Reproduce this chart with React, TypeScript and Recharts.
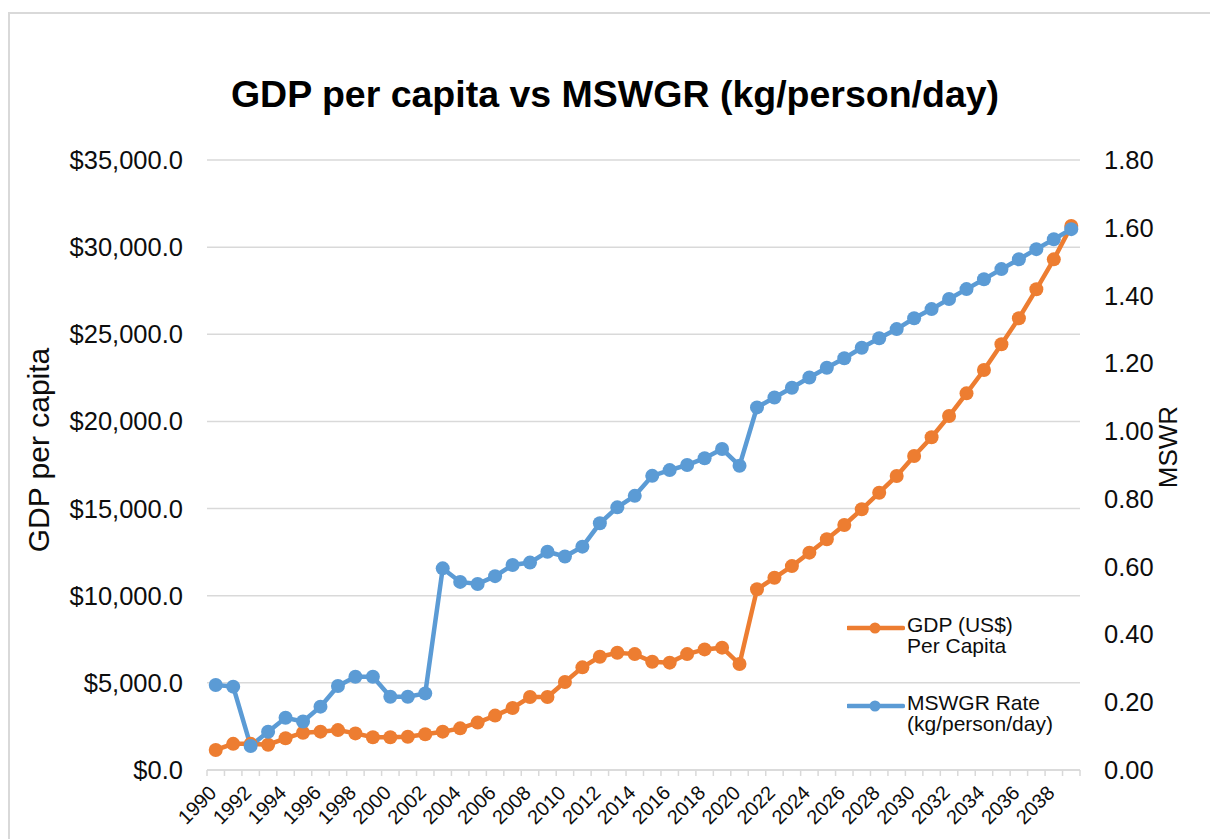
import React from 'react'
import { LineChart, Line, XAxis, YAxis, CartesianGrid, Legend } from 'recharts'

const YEARS = [
  '1990', '1991', '1992', '1993', '1994', '1995', '1996', '1997', '1998', '1999',
  '2000', '2001', '2002', '2003', '2004', '2005', '2006', '2007', '2008', '2009',
  '2010', '2011', '2012', '2013', '2014', '2015', '2016', '2017', '2018', '2019',
  '2020', '2021', '2022', '2023', '2024', '2025', '2026', '2027', '2028', '2029',
  '2030', '2031', '2032', '2033', '2034', '2035', '2036', '2037', '2038', '2039',
]

// GDP (US$) per capita
const GDP = [
  1150, 1500, 1500, 1450, 1820, 2140, 2200, 2290, 2100, 1880,
  1880, 1910, 2050, 2200, 2390, 2720, 3120, 3560, 4190, 4190,
  5050, 5890, 6500, 6730, 6650, 6210, 6160, 6650, 6920, 7020,
  6080, 10370, 11030, 11700, 12470, 13240, 14060, 14960, 15910, 16870,
  18020, 19090, 20310, 21610, 22950, 24430, 25920, 27580, 29300, 31220,
]

// MSWGR rate, kg/person/day
const MSW = [
  0.251, 0.246, 0.071, 0.113, 0.154, 0.143, 0.187, 0.248, 0.275, 0.275,
  0.216, 0.216, 0.226, 0.595, 0.555, 0.549, 0.572, 0.605, 0.612, 0.644,
  0.63, 0.659, 0.728, 0.775, 0.809, 0.868, 0.885, 0.9, 0.92, 0.947,
  0.898, 1.07, 1.099, 1.128, 1.158, 1.187, 1.215, 1.246, 1.274, 1.301,
  1.333, 1.36, 1.39, 1.419, 1.448, 1.478, 1.507, 1.537, 1.566, 1.596,
]

const LEFT_TICKS = [0, 5000, 10000, 15000, 20000, 25000, 30000, 35000]
const RIGHT_TICKS = [0, 0.2, 0.4, 0.6, 0.8, 1.0, 1.2, 1.4, 1.6, 1.8]

const ORANGE = '#ED7D31'
const BLUE = '#5B9BD5'
const GRID = '#d9d9d9'
const INK = '#0d0d0d'
const FONT = '"Liberation Sans", Arial, sans-serif'

const W = 1210
const H = 839
const LEFT_W = 207
const RIGHT_W = 130
const PLOT_W = W - LEFT_W - RIGHT_W
const STEP = PLOT_W / YEARS.length

const data = YEARS.map((year, i) => ({ year, gdp: GDP[i], msw: MSW[i] }))

function YearTick(props: any) {
  const { x, y, payload } = props
  const i = YEARS.indexOf(String(payload.value))
  const half = STEP / 2
  const tx = x + 2
  const ty = y + 24
  return (
    <g>
      <line x1={x - half} x2={x - half} y1={y} y2={y + 6} stroke={GRID} strokeWidth={1.5} />
      {i === YEARS.length - 1 && (
        <line x1={x + half} x2={x + half} y1={y} y2={y + 6} stroke={GRID} strokeWidth={1.5} />
      )}
      {i % 2 === 0 && (
        <text
          x={tx}
          y={ty}
          textAnchor="end"
          fontSize={20}
          fontFamily={FONT}
          fill={INK}
          transform={`rotate(-45 ${tx} ${ty})`}
        >
          {payload.value}
        </text>
      )}
    </g>
  )
}

function LegendBox() {
  const items = [
    { color: ORANGE, lines: ['GDP (US$)', 'Per Capita'], top: 0 },
    { color: BLUE, lines: ['MSWGR Rate', '(kg/person/day)'], top: 78 },
  ]
  return (
    <div style={{ position: 'relative', width: 230, height: 130, fontFamily: FONT }}>
      {items.map((it) => (
        <div key={it.lines[0]} style={{ position: 'absolute', left: 0, top: it.top }}>
          <svg width={58} height={14} style={{ position: 'absolute', left: 0, top: 3 }}>
            <line x1={1} x2={56} y1={7} y2={7} stroke={it.color} strokeWidth={4.5} strokeLinecap="round" />
            <circle cx={28} cy={7} r={5.5} fill={it.color} />
          </svg>
          <div style={{ position: 'absolute', left: 60, top: -4, fontSize: 21, lineHeight: '21px', color: INK, whiteSpace: 'nowrap' }}>
            {it.lines[0]}
            <br />
            {it.lines[1]}
          </div>
        </div>
      ))}
    </div>
  )
}

export default function App() {
  return (
    <div style={{ position: 'fixed', left: 0, top: 0, width: W, height: H, background: '#fff', overflow: 'hidden' }}>
      <div
        style={{
          position: 'absolute',
          left: 8,
          top: 12,
          width: W + 20,
          height: H + 20,
          borderLeft: `2px solid ${GRID}`,
          borderTop: `2px solid ${GRID}`,
        }}
      />
      <div
        style={{
          position: 'absolute',
          left: 0,
          top: 73,
          width: 1230,
          textAlign: 'center',
          fontFamily: FONT,
          fontWeight: 'bold',
          fontSize: 37.5,
          lineHeight: '42px',
          color: '#000',
        }}
      >
        GDP per capita vs MSWGR (kg/person/day)
      </div>
      <div style={{ position: 'absolute', left: 0, top: 0 }}>
        <LineChart width={W} height={H} data={data} margin={{ top: 160, right: 0, bottom: 9, left: 0 }}>
          <CartesianGrid yAxisId="l" vertical={false} stroke={GRID} strokeWidth={1.5} />
          <XAxis
            dataKey="year"
            height={60}
            interval={0}
            padding={{ left: STEP / 2, right: STEP / 2 }}
            tickSize={0}
            tickMargin={0}
            tickLine={false}
            axisLine={{ stroke: GRID, strokeWidth: 1.5 }}
            tick={<YearTick />}
          />
          <YAxis
            yAxisId="l"
            width={LEFT_W}
            domain={[0, 35000]}
            ticks={LEFT_TICKS}
            interval={0}
            axisLine={false}
            tickLine={false}
            tickSize={0}
            tickMargin={24}
            tick={{ fontSize: 25.5, fill: INK, fontFamily: FONT }}
            tickFormatter={(v: number) =>
              '$' + v.toLocaleString('en-US', { minimumFractionDigits: 1, maximumFractionDigits: 1 })
            }
            label={() => (
              <text
                x={38}
                y={450}
                textAnchor="middle"
                dominantBaseline="central"
                transform="rotate(-90 38 450)"
                fontSize={30}
                fontFamily={FONT}
                fill={INK}
              >
                GDP per capita
              </text>
            )}
          />
          <YAxis
            yAxisId="r"
            orientation="right"
            width={RIGHT_W}
            domain={[0, 1.8]}
            ticks={RIGHT_TICKS}
            interval={0}
            axisLine={false}
            tickLine={false}
            tickSize={0}
            tickMargin={24}
            tick={{ fontSize: 25.5, fill: INK, fontFamily: FONT }}
            tickFormatter={(v: number) => v.toFixed(2)}
            label={() => (
              <text
                x={1168}
                y={447}
                textAnchor="middle"
                dominantBaseline="central"
                transform="rotate(-90 1168 447)"
                fontSize={26}
                fontFamily={FONT}
                fill={INK}
              >
                MSWR
              </text>
            )}
          />
          <Legend
            layout="vertical"
            align="center"
            verticalAlign="middle"
            content={() => <LegendBox />}
            wrapperStyle={{ left: 847, top: 618, width: 230, height: 130 }}
          />
          <Line
            yAxisId="l"
            type="linear"
            dataKey="gdp"
            name="GDP (US$) Per Capita"
            stroke={ORANGE}
            strokeWidth={4.5}
            dot={{ r: 7, fill: ORANGE, stroke: ORANGE, strokeWidth: 0 }}
            activeDot={false}
            isAnimationActive={false}
          />
          <Line
            yAxisId="r"
            type="linear"
            dataKey="msw"
            name="MSWGR Rate (kg/person/day)"
            stroke={BLUE}
            strokeWidth={4.5}
            dot={{ r: 7, fill: BLUE, stroke: BLUE, strokeWidth: 0 }}
            activeDot={false}
            isAnimationActive={false}
          />
        </LineChart>
      </div>
    </div>
  )
}
